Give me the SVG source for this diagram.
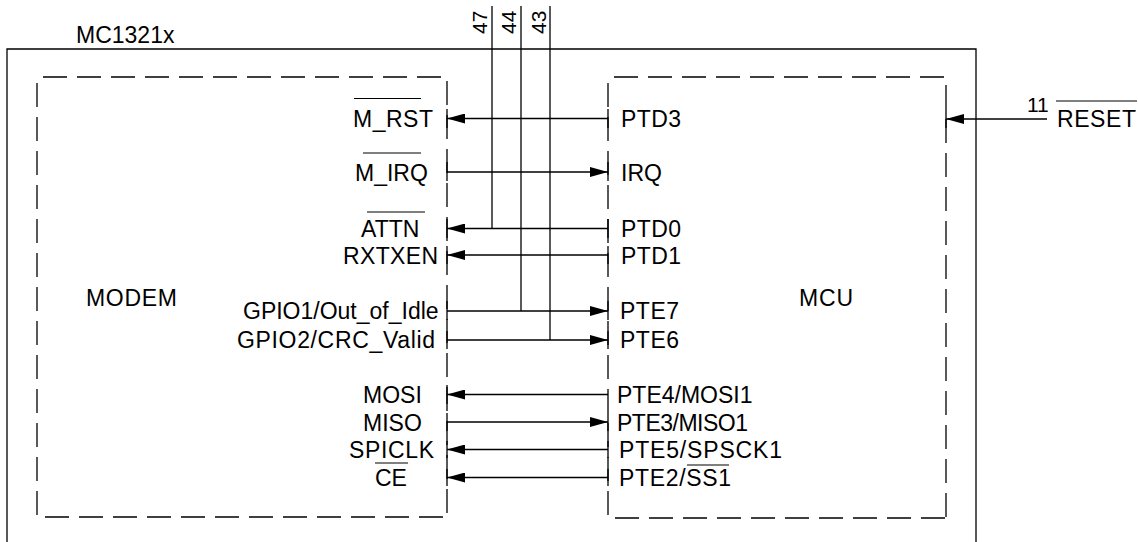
<svg xmlns="http://www.w3.org/2000/svg" width="1138" height="542" viewBox="0 0 1138 542">
<style>
  text { font-family: "Liberation Sans", Arial, sans-serif; font-size: 23px; fill: #000; }
  .num { font-size: 21px; }
  .box { fill: none; stroke: #000; stroke-width: 1.3; }
  .dash { fill: none; stroke: #000; stroke-width: 1.3; stroke-dasharray: 24 10; stroke-dashoffset: 28; }
  .ln { fill: none; stroke: #000; stroke-width: 1.3; }
  .arr { marker-end: url(#ah); }
  .ov { stroke: #000; stroke-width: 1.2; }
</style>
<defs>
  <marker id="ah" markerUnits="userSpaceOnUse" markerWidth="18" markerHeight="10" refX="18" refY="5" orient="auto">
    <path d="M0,0 L18,5 L0,10 z" fill="#000"/>
  </marker>
</defs>
<rect width="1138" height="542" fill="#fff"/>

<g id="mc1321x">
  <path class="box" d="M7,542 V49 H976 V542"/>
  <text x="76" y="43">MC1321x</text>
</g>

<g id="modem">
  <path class="dash" d="M37,77 H447 V517"/>
  <path class="dash" d="M37,77 V517 H447"/>
  <text x="86" y="306" textLength="91" lengthAdjust="spacing">MODEM</text>
  <text x="353" y="127" textLength="80" lengthAdjust="spacing">M_RST</text>
  <line class="ov" x1="354" y1="98.5" x2="421" y2="98.5"/>
  <text x="355" y="180.5">M_IRQ</text>
  <line class="ov" x1="363" y1="153" x2="421" y2="153"/>
  <text x="361" y="237">ATTN</text>
  <line class="ov" x1="367" y1="212" x2="425" y2="212"/>
  <text x="343" y="263.5" textLength="95" lengthAdjust="spacing">RXTXEN</text>
  <text x="243" y="319">GPIO1/Out_of_Idle</text>
  <text x="237" y="348" textLength="198" lengthAdjust="spacing">GPIO2/CRC_Valid</text>
  <text x="363" y="403">MOSI</text>
  <text x="363" y="430.5">MISO</text>
  <text x="349" y="458" textLength="85" lengthAdjust="spacing">SPICLK</text>
  <text x="375" y="486">CE</text>
  <line class="ov" x1="375" y1="463" x2="408" y2="463"/>
</g>

<g id="mcu">
  <path class="dash" d="M608,77 H946 V518"/>
  <path class="dash" d="M608,77 V518 H946"/>
  <text x="799" y="306" textLength="54" lengthAdjust="spacing">MCU</text>
  <text x="621" y="127" textLength="60" lengthAdjust="spacing">PTD3</text>
  <text x="621" y="180.5">IRQ</text>
  <text x="621" y="237" textLength="60" lengthAdjust="spacing">PTD0</text>
  <text x="621" y="263.5" textLength="60" lengthAdjust="spacing">PTD1</text>
  <text x="620" y="319" textLength="59" lengthAdjust="spacing">PTE7</text>
  <text x="620" y="348" textLength="59" lengthAdjust="spacing">PTE6</text>
  <text x="617" y="403">PTE4/MOSI1</text>
  <text x="617" y="430.5" textLength="131" lengthAdjust="spacing">PTE3/MISO1</text>
  <text x="619" y="458" textLength="163" lengthAdjust="spacing">PTE5/SPSCK1</text>
  <text x="619" y="486" textLength="112" lengthAdjust="spacing">PTE2/SS1</text>
  <line class="ov" x1="687" y1="465" x2="729" y2="465"/>
</g>

<g id="reset">
  <text class="num" x="1027" y="112">11</text>
  <text x="1057" y="127" textLength="79" lengthAdjust="spacing">RESET</text>
  <line class="ov" x1="1056" y1="101" x2="1137" y2="101"/>
</g>

<g id="pins">
  <text class="num" transform="translate(486.5,34) rotate(-90)">47</text>
  <text class="num" transform="translate(516,34) rotate(-90)">44</text>
  <text class="num" transform="translate(545.5,34) rotate(-90)">43</text>
</g>

<g id="connectors">
  <line class="ln arr" x1="608" y1="118.5" x2="447" y2="118.5"/>
  <line class="ln arr" x1="447" y1="172" x2="608" y2="172"/>
  <line class="ln arr" x1="608" y1="228.5" x2="447" y2="228.5"/>
  <line class="ln arr" x1="608" y1="255" x2="447" y2="255"/>
  <line class="ln arr" x1="447" y1="311" x2="608" y2="311"/>
  <line class="ln arr" x1="447" y1="340" x2="608" y2="340"/>
  <line class="ln arr" x1="608" y1="394.5" x2="447" y2="394.5"/>
  <line class="ln arr" x1="447" y1="422" x2="608" y2="422"/>
  <line class="ln arr" x1="608" y1="449.5" x2="447" y2="449.5"/>
  <line class="ln arr" x1="608" y1="477.5" x2="447" y2="477.5"/>
  <line class="ln arr" x1="1047" y1="119" x2="946" y2="119"/>
  <line class="ln" x1="492" y1="6" x2="492" y2="228.5"/>
  <line class="ln" x1="521" y1="6" x2="521" y2="311"/>
  <line class="ln" x1="550" y1="6" x2="550" y2="340"/>
  <path class="ln" d="M447,109 V128 M608,109 V128 M447,162 V181 M608,162 V181 M447,219 V238 M608,219 V238 M447,246 V264 M608,246 V264 M447,301 V320 M608,301 V320 M447,331 V349 M608,331 V349 M447,385 V404 M447,413 V431 M608,413 V431 M447,441 V458 M608,441 V458 M447,469 V486 M608,469 V486 M946,109 V128"/>
</g>
</svg>
